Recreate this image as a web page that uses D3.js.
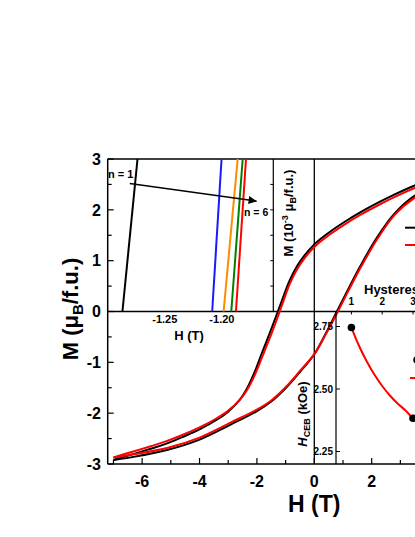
<!DOCTYPE html>
<html><head><meta charset="utf-8">
<script src="https://cdn.jsdelivr.net/npm/d3@7"></script>
<style>body{margin:0;background:#fff}svg{display:block}text{font-family:"Liberation Sans",Arial,sans-serif;font-weight:bold}</style>
</head><body><svg id="c" width="415" height="537"></svg>
<script>
// ---------- main hysteresis loop (H in T, M in muB/f.u.) ----------
const fieldDown = [-7, -6.4, -5.7, -5.2, -4.6, -4.0, -3.4, -3.0, -2.6, -2.35, -2.1, -1.8, -1.55, -1.27, -1.08, -0.85, -0.5, 0, 0.55, 1.13, 1.6, 2.29, 2.75, 3.5, 4, 5, 6, 7];
const mDownBlack = [-2.92, -2.82, -2.70, -2.61, -2.47, -2.32, -2.13, -1.97, -1.74, -1.52, -1.22, -0.78, -0.42, 0.0, 0.29, 0.62, 0.98, 1.32, 1.57, 1.79, 1.95, 2.16, 2.29, 2.48, 2.58, 2.72, 2.83, 2.92];
const mDownRed   = [-2.87, -2.77, -2.65, -2.56, -2.43, -2.28, -2.10, -1.95, -1.74, -1.55, -1.28, -0.87, -0.52, -0.10, 0.20, 0.55, 0.92, 1.27, 1.52, 1.74, 1.90, 2.11, 2.24, 2.43, 2.53, 2.67, 2.78, 2.88];
const fieldUp = [-7, -6.3, -5.1, -4.0, -2.9, -2.0, -1.5, -1.0, -0.5, 0, 0.4, 0.76, 1.2, 1.6, 2.2, 2.8, 3.5, 4, 5, 6, 7];
const mUpBlack = [-2.92, -2.86, -2.72, -2.52, -2.22, -1.96, -1.77, -1.51, -1.19, -0.84, -0.43, -0.03, 0.46, 0.89, 1.47, 1.93, 2.28, 2.42, 2.64, 2.80, 2.92];
const mUpRed   = [-2.87, -2.81, -2.68, -2.48, -2.18, -1.93, -1.75, -1.49, -1.17, -0.84, -0.45, -0.07, 0.42, 0.85, 1.43, 1.90, 2.24, 2.38, 2.60, 2.76, 2.88];
const xTicks = [-6, -4, -2, 0, 2, 4, 6];
const yTicks = [-3, -2, -1, 0, 1, 2, 3];
const legendMain = ["1st loop", "6th loop"];

// ---------- inset 1: zoom near coercive field ----------
const insetLoops = ["n = 1", "n = 2", "n = 3", "n = 4", "n = 5"];
const insetColors = ["#000000", "#1a1aff", "#ff8c00", "#008000", "#ff0000"];
const insetHatZero = [-1.2871, -1.2085, -1.1985, -1.1918, -1.1877];
const insetHatTop  = [-1.2739, -1.2003, -1.1862, -1.1818, -1.1789];
const insetMends = [0, 3];
const insetXTicks = [-1.25, -1.20];
const arrowFrom = [-1.2807, 2.52];
const arrowTo = [-1.1696, 2.17];

// ---------- inset 2: exchange bias field vs loop number ----------
const loopNumber = [1, 3, 5];
const hceb = [2.746, 2.383, 2.305];
const fitN = [1.0, 1.25, 1.5, 1.75, 2.0, 2.25, 2.5, 2.75, 3.0, 3.25, 3.5, 4, 5, 6];
const fitH = [2.746, 2.672, 2.61, 2.557, 2.512, 2.474, 2.442, 2.415, 2.383, 2.364, 2.35, 2.33, 2.305, 2.295];
const inset2XTicks = [1, 2, 3, 4, 5, 6];
const inset2YTicks = [2.25, 2.50, 2.75];

const svg = d3.select("#c");
const L = 107.7, R = 520.9, T = 159, B = 464;
const x = d3.scaleLinear().domain([-7.2, 7.2]).range([L, R]);
const y = d3.scaleLinear().domain([-3, 3]).range([B, T]);

const defs = svg.append("defs");
defs.append("clipPath").attr("id", "clipMain")
  .append("rect").attr("x", L).attr("y", T).attr("width", R - L).attr("height", B - T);
defs.append("marker").attr("id", "arr").attr("viewBox", "0 0 10 10")
  .attr("refX", 10).attr("refY", 5).attr("markerWidth", 10).attr("markerHeight", 8)
  .attr("markerUnits", "userSpaceOnUse").attr("orient", "auto")
  .append("path").attr("d", "M0,0L10,5L0,10z").attr("fill", "#000");

// frame
svg.append("line").attr("x1", L).attr("x2", R).attr("y1", T).attr("y2", T).attr("stroke", "#000").attr("stroke-width", 1.5);
svg.append("line").attr("x1", L).attr("x2", L).attr("y1", T).attr("y2", B).attr("stroke", "#000").attr("stroke-width", 1.5);
svg.append("line").attr("x1", L).attr("x2", R).attr("y1", B).attr("y2", B).attr("stroke", "#000").attr("stroke-width", 1.5);
// zero lines
svg.append("line").attr("x1", L).attr("x2", R).attr("y1", y(0)).attr("y2", y(0)).attr("stroke", "#000").attr("stroke-width", 1.3);
svg.append("line").attr("x1", x(0)).attr("x2", x(0)).attr("y1", T).attr("y2", B).attr("stroke", "#000").attr("stroke-width", 1.3);

// main ticks
d3.range(-7, 8, 1).forEach(v => {
  const major = v % 2 === 0;
  svg.append("line").attr("x1", x(v)).attr("x2", x(v)).attr("y1", B).attr("y2", B - (major ? 6 : 4)).attr("stroke", "#000").attr("stroke-width", 1.2);
});
d3.range(-3, 3.01, 0.5).forEach(v => {
  const major = Math.abs(v % 1) < 1e-9;
  svg.append("line").attr("x1", L).attr("x2", L + (major ? 6 : 4)).attr("y1", y(v)).attr("y2", y(v)).attr("stroke", "#000").attr("stroke-width", 1.2);
});
xTicks.forEach(v => svg.append("text").attr("x", x(v)).attr("y", 487).attr("text-anchor", "middle").attr("font-size", 16).text(v));
yTicks.forEach(v => svg.append("text").attr("x", 101).attr("y", y(v)).attr("dy", "0.36em").attr("text-anchor", "end").attr("font-size", 16).text(v));

svg.append("text").attr("x", x(0)).attr("y", 512).attr("text-anchor", "middle").attr("font-size", 23).text("H (T)");
const yl = svg.append("text").attr("transform", "translate(78,309) rotate(-90)").attr("text-anchor", "middle").attr("font-size", 22);
yl.append("tspan").text("M (\u03bc");
yl.append("tspan").attr("font-size", 15).attr("dy", 5).text("B");
yl.append("tspan").attr("dy", -5).text("/f.u.)");

// main curves
const line = d3.line().x(d => x(d[0])).y(d => y(d[1])).curve(d3.curveCatmullRom.alpha(0.5));
const gCurves = svg.append("g").attr("clip-path", "url(#clipMain)");
const branches = [
  [fieldDown, mDownBlack, "#000"], [fieldUp, mUpBlack, "#000"],
  [fieldDown, mDownRed, "#ff0000"], [fieldUp, mUpRed, "#ff0000"]
];
branches.forEach(([hs, ms, c]) => {
  gCurves.append("path").attr("d", line(hs.map((h, i) => [h, ms[i]]))).attr("fill", "none").attr("stroke", c).attr("stroke-width", 2);
});

// main legend (mostly off-canvas)
legendMain.forEach((t, i) => {
  const ly = 227.7 + i * 17.3;
  svg.append("line").attr("x1", 405).attr("x2", 435).attr("y1", ly).attr("y2", ly).attr("stroke", i ? "#ff0000" : "#000").attr("stroke-width", 2);
  svg.append("text").attr("x", 440).attr("y", ly).attr("dy", "0.35em").attr("font-size", 13).text(t);
});

// ---------- inset 1 ----------
const ix = d3.scaleLinear().domain([-1.30, -1.155]).range([L, 273.3]);
const iy = d3.scaleLinear().domain([0, 3]).range([y(0), T]);
svg.append("line").attr("x1", ix.range()[1]).attr("x2", ix.range()[1]).attr("y1", T).attr("y2", y(0)).attr("stroke", "#000").attr("stroke-width", 1.2);
d3.range(0.5, 3, 0.5).forEach(v => svg.append("line").attr("x1", ix.range()[1]).attr("x2", ix.range()[1] - 3).attr("y1", iy(v)).attr("y2", iy(v)).attr("stroke", "#000").attr("stroke-width", 1));
insetXTicks.forEach(v => svg.append("text").attr("x", ix(v)).attr("y", 323).attr("text-anchor", "middle").attr("font-size", 11).text(v.toFixed(2)));
svg.append("text").attr("x", 189).attr("y", 340).attr("text-anchor", "middle").attr("font-size", 13).text("H (T)");
insetLoops.forEach((n, i) => {
  svg.append("line").attr("x1", ix(insetHatZero[i])).attr("y1", iy(insetMends[0]))
    .attr("x2", ix(insetHatTop[i])).attr("y2", iy(insetMends[1]))
    .attr("stroke", insetColors[i]).attr("stroke-width", 2);
});
svg.append("line").attr("x1", ix(arrowFrom[0])).attr("y1", iy(arrowFrom[1]))
  .attr("x2", ix(arrowTo[0])).attr("y2", iy(arrowTo[1]))
  .attr("stroke", "#000").attr("stroke-width", 1.5).attr("marker-end", "url(#arr)");
svg.append("text").attr("x", 108).attr("y", 178).attr("font-size", 11).text("n = 1");
svg.append("text").attr("x", 244).attr("y", 216).attr("font-size", 10.5).text("n = 6");
const il = svg.append("text").attr("transform", "translate(293,213) rotate(-90)").attr("text-anchor", "middle").attr("font-size", 13);
il.append("tspan").text("M (10");
il.append("tspan").attr("font-size", 9).attr("dy", -5).text("-3");
il.append("tspan").attr("dy", 5).text(" \u03bc");
il.append("tspan").attr("font-size", 9).attr("dy", 3).text("B");
il.append("tspan").attr("dy", -3).text("/f.u.)");

// ---------- inset 2 ----------
const jx = d3.scaleLinear().domain([0.5, 6.5]).range([336, 520.8]);
const jy = d3.scaleLinear().domain([2.2, 2.81]).range([B, y(0)]);
defs.append("clipPath").attr("id", "clipIn2")
  .append("rect").attr("x", 336).attr("y", y(0)).attr("width", 520.8 - 336).attr("height", B - y(0));
svg.append("line").attr("x1", 336).attr("x2", 336).attr("y1", y(0)).attr("y2", B).attr("stroke", "#000").attr("stroke-width", 1.2);
inset2YTicks.forEach(v => {
  svg.append("line").attr("x1", 336).attr("x2", 340).attr("y1", jy(v)).attr("y2", jy(v)).attr("stroke", "#000").attr("stroke-width", 1);
  svg.append("text").attr("x", 333).attr("y", jy(v)).attr("dy", "0.36em").attr("text-anchor", "end").attr("font-size", 10).text(v.toFixed(2));
});
inset2XTicks.forEach(v => {
  svg.append("line").attr("x1", jx(v)).attr("x2", jx(v)).attr("y1", y(0)).attr("y2", y(0) + 3).attr("stroke", "#000").attr("stroke-width", 1);
  svg.append("text").attr("x", jx(v)).attr("y", 305).attr("text-anchor", "middle").attr("font-size", 10).text(v);
});
svg.append("text").attr("x", 364).attr("y", 294).attr("font-size", 13).text("Hysteresis loop number");
const hl = svg.append("text").attr("transform", "translate(307,414) rotate(-90)").attr("text-anchor", "middle").attr("font-size", 13);
hl.append("tspan").attr("font-style", "italic").text("H");
hl.append("tspan").attr("font-size", 9).attr("dy", 3).text("CEB");
hl.append("tspan").attr("dy", -3).text(" (kOe)");
const fitLine = d3.line().x(d => jx(d[0])).y(d => jy(d[1])).curve(d3.curveMonotoneX);
svg.append("path").attr("clip-path", "url(#clipIn2)").attr("d", fitLine(fitN.map((n, i) => [n, fitH[i]])))
  .attr("fill", "none").attr("stroke", "#ff0000").attr("stroke-width", 2);
loopNumber.forEach((n, i) => svg.append("circle").attr("cx", jx(n)).attr("cy", jy(hceb[i])).attr("r", 3.8).attr("fill", "#000"));
// inset 2 legend (off-canvas mostly)
svg.append("circle").attr("cx", 417).attr("cy", 360).attr("r", 3.8).attr("fill", "#000");
svg.append("text").attr("x", 440).attr("y", 360).attr("dy", "0.35em").attr("font-size", 12).text("Data");
svg.append("line").attr("x1", 410).attr("x2", 430).attr("y1", 378).attr("y2", 378).attr("stroke", "#ff0000").attr("stroke-width", 2);
svg.append("text").attr("x", 440).attr("y", 378).attr("dy", "0.35em").attr("font-size", 12).text("Fit");
</script></body></html>
